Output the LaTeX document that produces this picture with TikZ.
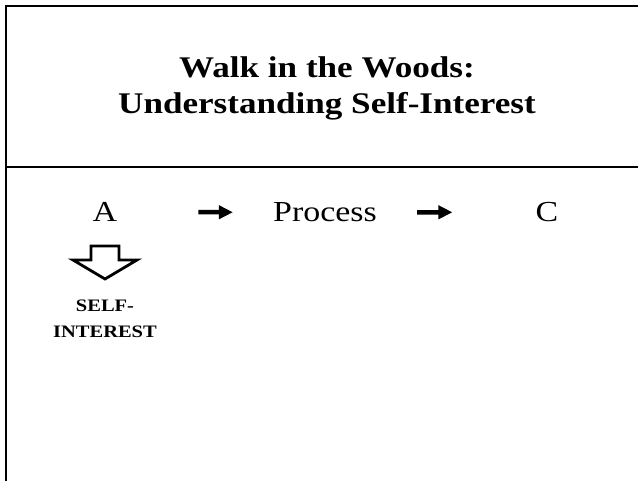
\documentclass[tikz,border=0pt]{standalone}
\usepackage{fontspec}
\setmainfont[FakeStretch=1.17]{Liberation Serif}
\usetikzlibrary{arrows.meta}
\begin{document}
\begin{tikzpicture}[x=1pt,y=-1pt,
  rule/.style={line width=2.6pt},
  titleline/.style={font=\fontsize{30}{36}\selectfont\bfseries, inner sep=0pt, anchor=base},
  term/.style={font=\fontsize{29}{34}\selectfont, inner sep=0pt, anchor=base},
  flow/.style={line width=4.5pt, -{Triangle[length=14pt,width=13pt]}},
  hollow/.style={line width=2.8pt, line join=miter},
  tagline/.style={font=\fontsize{17.5}{26}\selectfont\bfseries, inner sep=0pt, anchor=base}]
\useasboundingbox (0,0) rectangle (638,481);
% frame: left side, top and the rule under the heading
\draw[rule] (6,481) -- (6,6) -- (638,6);
\draw[rule] (6,167) -- (638,167);
% heading
\node[titleline] (t1) at (327,77.3) {Walk in the Woods:};
\node[titleline] (t2) at (327,113.3) {Understanding Self-Interest};
% A -> Process -> C
\node[term] (A) at (105,221.7) {A};
\node[term] (P) at (325,221.7) {Process};
\node[term] (C) at (547,221.7) {C};
\draw[flow, shorten <=81pt, shorten >=40pt] (A) -- (P);
\draw[flow, shorten <=40pt, shorten >=83pt] (P) -- (C);
% hollow arrow pointing down from A
\draw[hollow] (91,246) -- (119,246) -- (119,260) -- (137,260) -- (105,279)
  -- (73,260) -- (91,260) -- cycle;
\node[tagline] (s1) at (105,311.7) {SELF-};
\node[tagline] (s2) at (105,337.7) {INTEREST};
\end{tikzpicture}
\end{document}
